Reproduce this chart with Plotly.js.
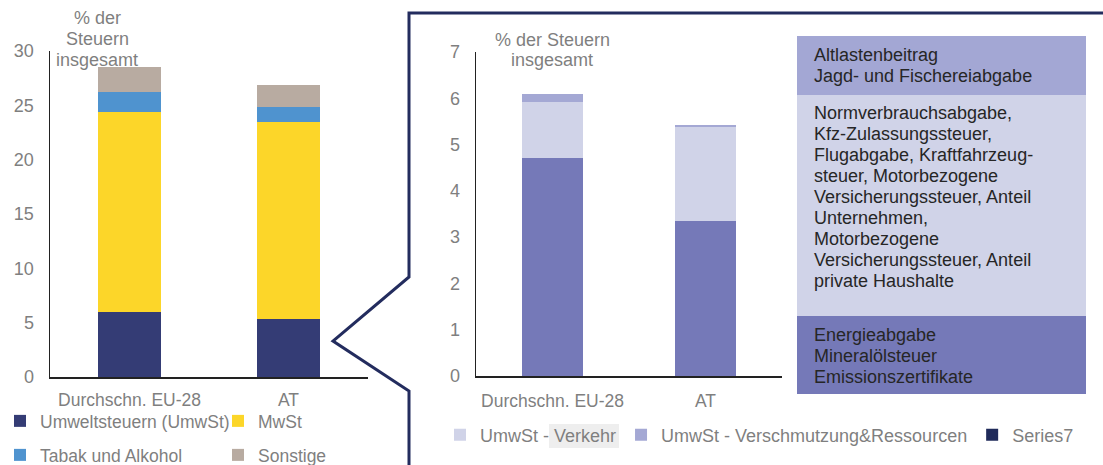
<!DOCTYPE html>
<html>
<head>
<meta charset="utf-8">
<script src="https://cdn.plot.ly/plotly-3.0.1.min.js"></script>
<style>html,body{margin:0;padding:0;background:#fff;overflow:hidden;}#chart{width:1103px;height:465px;overflow:hidden;}</style>
</head>
<body>
<div id="chart"></div>
<script>
// ---- data ----
const categories = ['Durchschn. EU-28', 'AT'];
// left chart: % of total taxes
const umweltsteuern = [6.0, 5.36];
const mwst = [18.4, 18.1];
const tabakAlkohol = [1.85, 1.38];
const sonstige = [2.3, 2.02];
// right chart: environmental taxes breakdown
const energie = [4.71, 3.35];
const verkehr = [1.21, 2.04];
const verschmutzung = [0.18, 0.03];
const series7 = [0, 0];
const leftTicks = [0, 5, 10, 15, 20, 25, 30];
const rightTicks = [0, 1, 2, 3, 4, 5, 6, 7];

const W = 1103, H = 465;
const px = x => x / W;
const py = y => 1 - y / H;
const GREY = '#7f7f7f';
const FONT = 'Liberation Sans, Arial, sans-serif';
const FS = 18;

const traces = [
  {type:'bar', x:categories, y:umweltsteuern, name:'Umweltsteuern (UmwSt)', marker:{color:'#343c75'}, xaxis:'x', yaxis:'y', legend:'legend'},
  {type:'bar', x:categories, y:mwst, name:'MwSt', marker:{color:'#fcd629'}, xaxis:'x', yaxis:'y', legend:'legend'},
  {type:'bar', x:categories, y:tabakAlkohol, name:'Tabak und Alkohol', marker:{color:'#4f93cf'}, xaxis:'x', yaxis:'y', legend:'legend2'},
  {type:'bar', x:categories, y:sonstige, name:'Sonstige', marker:{color:'#b8aba1'}, xaxis:'x', yaxis:'y', legend:'legend2'},
  {type:'bar', x:categories, y:energie, name:'UmwSt - Energie', marker:{color:'#7579b8'}, xaxis:'x2', yaxis:'y2', showlegend:false},
  {type:'bar', x:categories, y:verkehr, name:'UmwSt - Verkehr', marker:{color:'#d0d3e8'}, xaxis:'x2', yaxis:'y2', legend:'legend3'},
  {type:'bar', x:categories, y:verschmutzung, name:'UmwSt - Verschmutzung&Ressourcen', marker:{color:'#a4a8d4'}, xaxis:'x2', yaxis:'y2', legend:'legend3'},
  {type:'bar', x:categories, y:series7, name:'Series7', marker:{color:'#1f2a5a', line:{width:0}}, xaxis:'x2', yaxis:'y2', legend:'legend3'}
];
traces.forEach(t => { t.hoverinfo = 'skip'; });

const annotations = [];
function addLines(lines, x, yStart, spacing, opts) {
  lines.forEach((txt, i) => {
    annotations.push(Object.assign({
      xref:'paper', yref:'paper', x:px(x), y:py(yStart + i*spacing),
      text:txt, showarrow:false, yanchor:'middle'
    }, opts));
  });
}
const titleOpts = {xanchor:'center', font:{family:FONT, size:FS, color:GREY}};
addLines(['% der', 'Steuern', 'insgesamt'], 97, 18, 21, titleOpts);
addLines(['% der Steuern', 'insgesamt'], 552, 40, 20, titleOpts);

const boxOpts = {xanchor:'left', align:'left', font:{family:FONT, size:FS, color:'#262626'}};
addLines(['Altlastenbeitrag', 'Jagd- und Fischereiabgabe'], 812, 55, 21, boxOpts);
addLines(['Normverbrauchsabgabe,', 'Kfz-Zulassungssteuer,', 'Flugabgabe, Kraftfahrzeug-', 'steuer, Motorbezogene',
          'Versicherungssteuer, Anteil', 'Unternehmen,', 'Motorbezogene', 'Versicherungssteuer, Anteil', 'private Haushalte'],
         812, 113, 21, boxOpts);
addLines(['Energieabgabe', 'Mineralölsteuer', 'Emissionszertifikate'], 812, 335, 21, boxOpts);

function rect(x0, y0, x1, y1, color) {
  return {type:'rect', xref:'paper', yref:'paper', x0:px(x0), x1:px(x1), y0:py(y1), y1:py(y0),
          fillcolor:color, line:{width:0}, layer:'below'};
}
const bracketPts = [[1103,13],[409,13],[409,277],[333,341],[409,391],[409,470]];
const shapes = [
  rect(797, 36, 1086, 95, '#a3a7d4'),
  rect(797, 95, 1086, 316, '#d0d3e8'),
  rect(797, 316, 1086, 394, '#7579b8'),
  rect(549, 424, 619, 448, '#eeeeee'),
  {type:'path', xref:'paper', yref:'paper',
   path: bracketPts.map((p, i) => (i ? 'L' : 'M') + px(p[0]) + ',' + py(p[1])).join(' '),
   line:{color:'#232c5e', width:3}}
];

const axisCommon = {showgrid:false, zeroline:false, showline:true, linecolor:'#222', linewidth:1.5,
  ticks:'', tickfont:{family:FONT, size:FS, color:GREY}, fixedrange:true, automargin:false};

const legendCommon = {orientation:'h', xanchor:'left', yanchor:'middle', bgcolor:'rgba(0,0,0,0)',
  font:{family:FONT, size:FS, color:GREY}, traceorder:'normal', itemclick:false, itemdoubleclick:false};
const leftLegendFont = {family:FONT, size:17.5, color:GREY};

const layout = {
  width:W, height:H, margin:{l:0, r:0, t:0, b:0, pad:0, autoexpand:false},
  paper_bgcolor:'#fff', plot_bgcolor:'rgba(0,0,0,0)',
  barmode:'stack', bargap:0.6,
  font:{family:FONT},
  xaxis: Object.assign({}, axisCommon, {domain:[px(50), px(368)], anchor:'y', ticklabelstandoff:6,
    tickfont:{family:FONT, size:17.5, color:GREY}}),
  yaxis: Object.assign({}, axisCommon, {domain:[py(377), py(51)], anchor:'x', range:[0,30], tickvals:leftTicks, ticklabelstandoff:11}),
  xaxis2: Object.assign({}, axisCommon, {domain:[px(476), px(782)], anchor:'y2', ticklabelstandoff:8,
    tickfont:{family:FONT, size:17.5, color:GREY}}),
  yaxis2: Object.assign({}, axisCommon, {domain:[py(376), py(52)], anchor:'x2', range:[0,7], tickvals:rightTicks, ticklabelstandoff:11}),
  legend: Object.assign({}, legendCommon, {x:px(0), y:py(421), entrywidth:173, entrywidthmode:'pixels', font:leftLegendFont}),
  legend2: Object.assign({}, legendCommon, {x:px(0), y:py(455), entrywidth:173, entrywidthmode:'pixels', font:leftLegendFont}),
  legend3: Object.assign({}, legendCommon, {x:px(440), y:py(435)}),
  annotations: annotations,
  shapes: shapes,
  showlegend: true
};

Plotly.newPlot('chart', traces, layout, {displayModeBar:false, staticPlot:true});
</script>
</body>
</html>
